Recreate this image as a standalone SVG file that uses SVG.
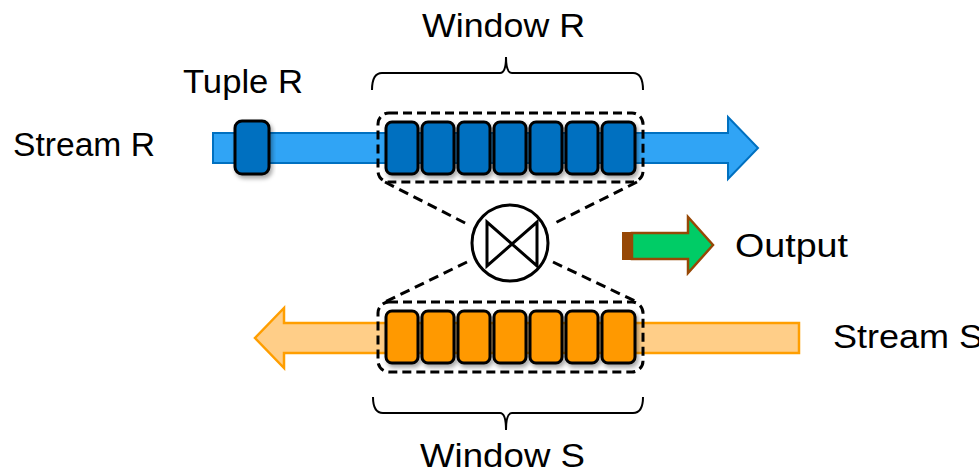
<svg xmlns="http://www.w3.org/2000/svg" width="979" height="473" viewBox="0 0 979 473">
  <defs>
    <filter id="shadow" x="-20%" y="-20%" width="140%" height="150%">
      <feDropShadow dx="2" dy="3" stdDeviation="2" flood-color="#000" flood-opacity="0.35"/>
    </filter>
    <style>
      .label { font-family: "Liberation Sans", Arial, sans-serif; font-size: 33px; fill: #000; }
      .cellR { fill: #0070C0; stroke: #000; stroke-width: 3; }
      .cellS { fill: #FF9900; stroke: #000; stroke-width: 3; }
      .win { fill: none; stroke: #000; stroke-width: 3; stroke-dasharray: 9 5; }
      .dash { fill: none; stroke: #000; stroke-width: 3; stroke-dasharray: 10 6; }
      .brace { fill: none; stroke: #000; stroke-width: 2; }
    </style>
  </defs>

  <!-- Stream R: light blue arrow running right -->
  <g id="stream-r">
    <polygon points="213,133 728,133 728,117 758,148 728,179 728,163 213,163" fill="#30A4F5" stroke="#0070C0" stroke-width="2"/>
    <text class="label" x="13" y="156" textLength="142" lengthAdjust="spacingAndGlyphs">Stream R</text>
  </g>

  <!-- Stream S: light orange arrow running left -->
  <g id="stream-s">
    <polygon points="799,323 799,353 284,353 284,368 255,338 284,308 284,323" fill="#FFCE88" stroke="#FF9E00" stroke-width="2.5"/>
    <text class="label" x="833" y="348" textLength="150" lengthAdjust="spacingAndGlyphs">Stream S</text>
  </g>

  <!-- Single tuple on stream R -->
  <g id="tuple-r">
    <rect x="235" y="121" width="34" height="53" rx="7" class="cellR" filter="url(#shadow)"/>
    <text class="label" x="183" y="93" textLength="120" lengthAdjust="spacingAndGlyphs">Tuple R</text>
  </g>

  <!-- Window R -->
  <g id="window-r">
    <rect x="378" y="113" width="265" height="69" rx="11" class="win"/>
    <g filter="url(#shadow)">
      <rect x="386" y="122" width="32" height="52" rx="6" class="cellR"/>
      <rect x="422" y="122" width="32" height="52" rx="6" class="cellR"/>
      <rect x="458" y="122" width="32" height="52" rx="6" class="cellR"/>
      <rect x="494" y="122" width="32" height="52" rx="6" class="cellR"/>
      <rect x="530" y="122" width="32" height="52" rx="6" class="cellR"/>
      <rect x="566" y="122" width="32" height="52" rx="6" class="cellR"/>
      <rect x="602" y="122" width="33" height="52" rx="6" class="cellR"/>
    </g>
    <path class="brace" d="M372,90 Q372,73 382,73 L500,73 Q506,73 506,57 Q506,73 512,73 L633,73 Q643,73 643,90"/>
    <text class="label" x="422" y="37" textLength="163" lengthAdjust="spacingAndGlyphs">Window R</text>
  </g>

  <!-- Window S -->
  <g id="window-s">
    <rect x="378" y="302" width="265" height="70" rx="11" class="win"/>
    <g filter="url(#shadow)">
      <rect x="386" y="311" width="32" height="52" rx="6" class="cellS"/>
      <rect x="422" y="311" width="32" height="52" rx="6" class="cellS"/>
      <rect x="458" y="311" width="32" height="52" rx="6" class="cellS"/>
      <rect x="494" y="311" width="32" height="52" rx="6" class="cellS"/>
      <rect x="530" y="311" width="32" height="52" rx="6" class="cellS"/>
      <rect x="566" y="311" width="32" height="52" rx="6" class="cellS"/>
      <rect x="602" y="311" width="33" height="52" rx="6" class="cellS"/>
    </g>
    <path class="brace" d="M373,397 Q373,413 383,413 L500,413 Q506,413 506,430 Q506,413 512,413 L633,413 Q643,413 643,397"/>
    <text class="label" x="420" y="467" textLength="165" lengthAdjust="spacingAndGlyphs">Window S</text>
  </g>

  <!-- Join operator -->
  <g id="join">
    <circle cx="510" cy="243" r="38" fill="#fff" stroke="#000" stroke-width="3"/>
    <path d="M487,222 L487,266 L537,222 L537,266 Z" fill="none" stroke="#000" stroke-width="3" stroke-linejoin="miter"/>
  </g>

  <!-- Output arrow -->
  <g id="output">
    <rect x="622" y="232" width="11" height="28" fill="#974806"/>
    <polygon points="632,233 688,233 688,217 713,245 688,273 688,259 632,259" fill="#00CC66" stroke="#974806" stroke-width="2.5"/>
    <text class="label" x="735" y="257" textLength="113" lengthAdjust="spacingAndGlyphs">Output</text>
  </g>

  <!-- Connectors between windows and join operator -->
  <g id="connectors">
    <line class="dash" x1="385" y1="182" x2="467" y2="224"/>
    <line class="dash" x1="637" y1="182" x2="553" y2="224"/>
    <line class="dash" x1="467" y1="262" x2="385" y2="302"/>
    <line class="dash" x1="553" y1="262" x2="637" y2="302"/>
  </g>
</svg>
